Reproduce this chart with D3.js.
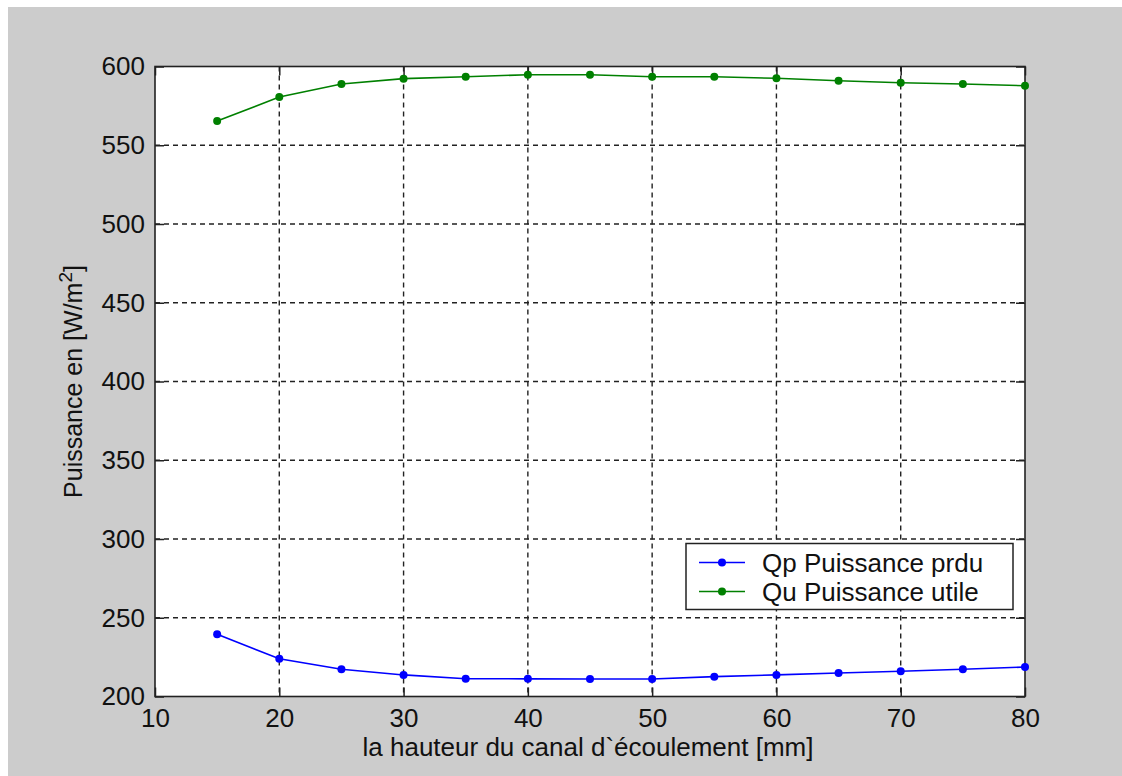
<!DOCTYPE html>
<html>
<head>
<meta charset="utf-8">
<script src="https://cdn.jsdelivr.net/npm/d3@7"></script>
<style>
  body { margin: 0; background: #fff; }
  svg { display: block; }
  text { font-family: "Liberation Sans", Arial, sans-serif; fill: #111; }
</style>
</head>
<body>
<div id="chart"></div>
<script>
// hauteur du canal [mm]
var hauteurs = [15, 20, 25, 30, 35, 40, 45, 50, 55, 60, 65, 70, 75, 80];
// Qp puissance perdue [W/m2]
var qpPerdue = [239.5, 224, 217.3, 213.7, 211.3, 211.2, 211.1, 211.1, 212.6, 213.7, 214.9, 216, 217.3, 218.7];
// Qu puissance utile [W/m2]
var quUtile = [565.4, 580.6, 588.9, 592.3, 593.5, 594.8, 594.8, 593.5, 593.5, 592.5, 591, 589.7, 588.9, 587.8];

var xTicks = [10, 20, 30, 40, 50, 60, 70, 80];
var yTicks = [200, 250, 300, 350, 400, 450, 500, 550, 600];

var seriesNames = ["Qp Puissance prdu", "Qu Puissance utile"];
var seriesColors = ["#0000ff", "#008000"];

var width = 1122, height = 776;
var plot = {left: 155, top: 66.5, right: 1025, bottom: 696.5};

var svg = d3.select("#chart").append("svg")
    .attr("width", width)
    .attr("height", height);

// gray figure background (white strip on top / left like the screenshot)
svg.append("rect")
    .attr("x", 8).attr("y", 7)
    .attr("width", width - 8).attr("height", height - 7)
    .attr("fill", "#cccccc");

var x = d3.scaleLinear().domain([10, 80]).range([plot.left, plot.right]);
var y = d3.scaleLinear().domain([200, 600]).range([plot.bottom, plot.top]);

svg.append("rect")
    .attr("x", plot.left).attr("y", plot.top)
    .attr("width", plot.right - plot.left).attr("height", plot.bottom - plot.top)
    .attr("fill", "#fff");

// dashed grid
var grid = svg.append("g").attr("stroke", "#222").attr("stroke-width", 1.4).attr("stroke-dasharray", "5,4");
grid.selectAll(".gx").data(xTicks.slice(1, -1)).enter().append("line")
    .attr("x1", d => x(d)).attr("x2", d => x(d))
    .attr("y1", plot.top).attr("y2", plot.bottom);
grid.selectAll(".gy").data(yTicks.slice(1, -1)).enter().append("line")
    .attr("y1", d => y(d)).attr("y2", d => y(d))
    .attr("x1", plot.left).attr("x2", plot.right);

// axes with inward ticks, on all four sides (box on)
var tickLen = 9;
var axisStyle = function(g) {
    g.select(".domain").remove();
    g.selectAll(".tick line").attr("stroke", "#222").attr("stroke-width", 1.5);
    g.selectAll(".tick text").style("font-size", "26px").attr("fill", "#111");
};

svg.append("g").attr("transform", "translate(0," + plot.bottom + ")")
    .call(d3.axisBottom(x).tickValues(xTicks).tickSize(-tickLen).tickPadding(12))
    .call(axisStyle);
svg.append("g").attr("transform", "translate(0," + plot.top + ")")
    .call(d3.axisTop(x).tickValues(xTicks).tickSize(-tickLen).tickFormat(""))
    .call(axisStyle);
svg.append("g").attr("transform", "translate(" + plot.left + ",0)")
    .call(d3.axisLeft(y).tickValues(yTicks).tickSize(-tickLen).tickPadding(10))
    .call(axisStyle);
svg.append("g").attr("transform", "translate(" + plot.right + ",0)")
    .call(d3.axisRight(y).tickValues(yTicks).tickSize(-tickLen).tickFormat(""))
    .call(axisStyle);

svg.append("rect")
    .attr("x", plot.left).attr("y", plot.top)
    .attr("width", plot.right - plot.left).attr("height", plot.bottom - plot.top)
    .attr("fill", "none").attr("stroke", "#222").attr("stroke-width", 1.6);

// series
var line = d3.line().x((d, i) => x(hauteurs[i])).y(d => y(d));
[qpPerdue, quUtile].forEach(function(vals, k) {
    var g = svg.append("g");
    g.append("path").datum(vals)
        .attr("d", line)
        .attr("fill", "none")
        .attr("stroke", seriesColors[k])
        .attr("stroke-width", 1.6);
    g.selectAll("circle").data(vals).enter().append("circle")
        .attr("cx", (d, i) => x(hauteurs[i]))
        .attr("cy", d => y(d))
        .attr("r", 4)
        .attr("fill", seriesColors[k]);
});

// axis labels
svg.append("text")
    .attr("x", (plot.left + plot.right) / 2 - 2)
    .attr("y", 756)
    .attr("text-anchor", "middle")
    .style("font-size", "26px")
    .text("la hauteur du canal d`écoulement [mm]");

var yl = svg.append("text")
    .attr("transform", "translate(82," + ((plot.top + plot.bottom) / 2) + ") rotate(-90)")
    .attr("text-anchor", "middle")
    .style("font-size", "25px");
yl.append("tspan").text("Puissance en [W/m");
yl.append("tspan").attr("dy", -10).style("font-size", "19px").text("2");
yl.append("tspan").attr("dy", 10).text("]");

// legend
var legend = svg.append("g").attr("transform", "translate(686,543.5)");
legend.append("rect")
    .attr("width", 327).attr("height", 66)
    .attr("fill", "#fff").attr("stroke", "#222").attr("stroke-width", 1.5);
var rows = legend.selectAll(".row").data(seriesNames).enter().append("g")
    .attr("transform", (d, i) => "translate(0," + (19 + i * 29) + ")");
rows.append("line")
    .attr("x1", 13).attr("x2", 59)
    .attr("stroke", (d, i) => seriesColors[i]).attr("stroke-width", 1.6);
rows.append("circle")
    .attr("cx", 36).attr("r", 4)
    .attr("fill", (d, i) => seriesColors[i]);
rows.append("text")
    .attr("x", 76).attr("dy", "0.35em")
    .style("font-size", "26px")
    .text(d => d);
</script>
</body>
</html>
